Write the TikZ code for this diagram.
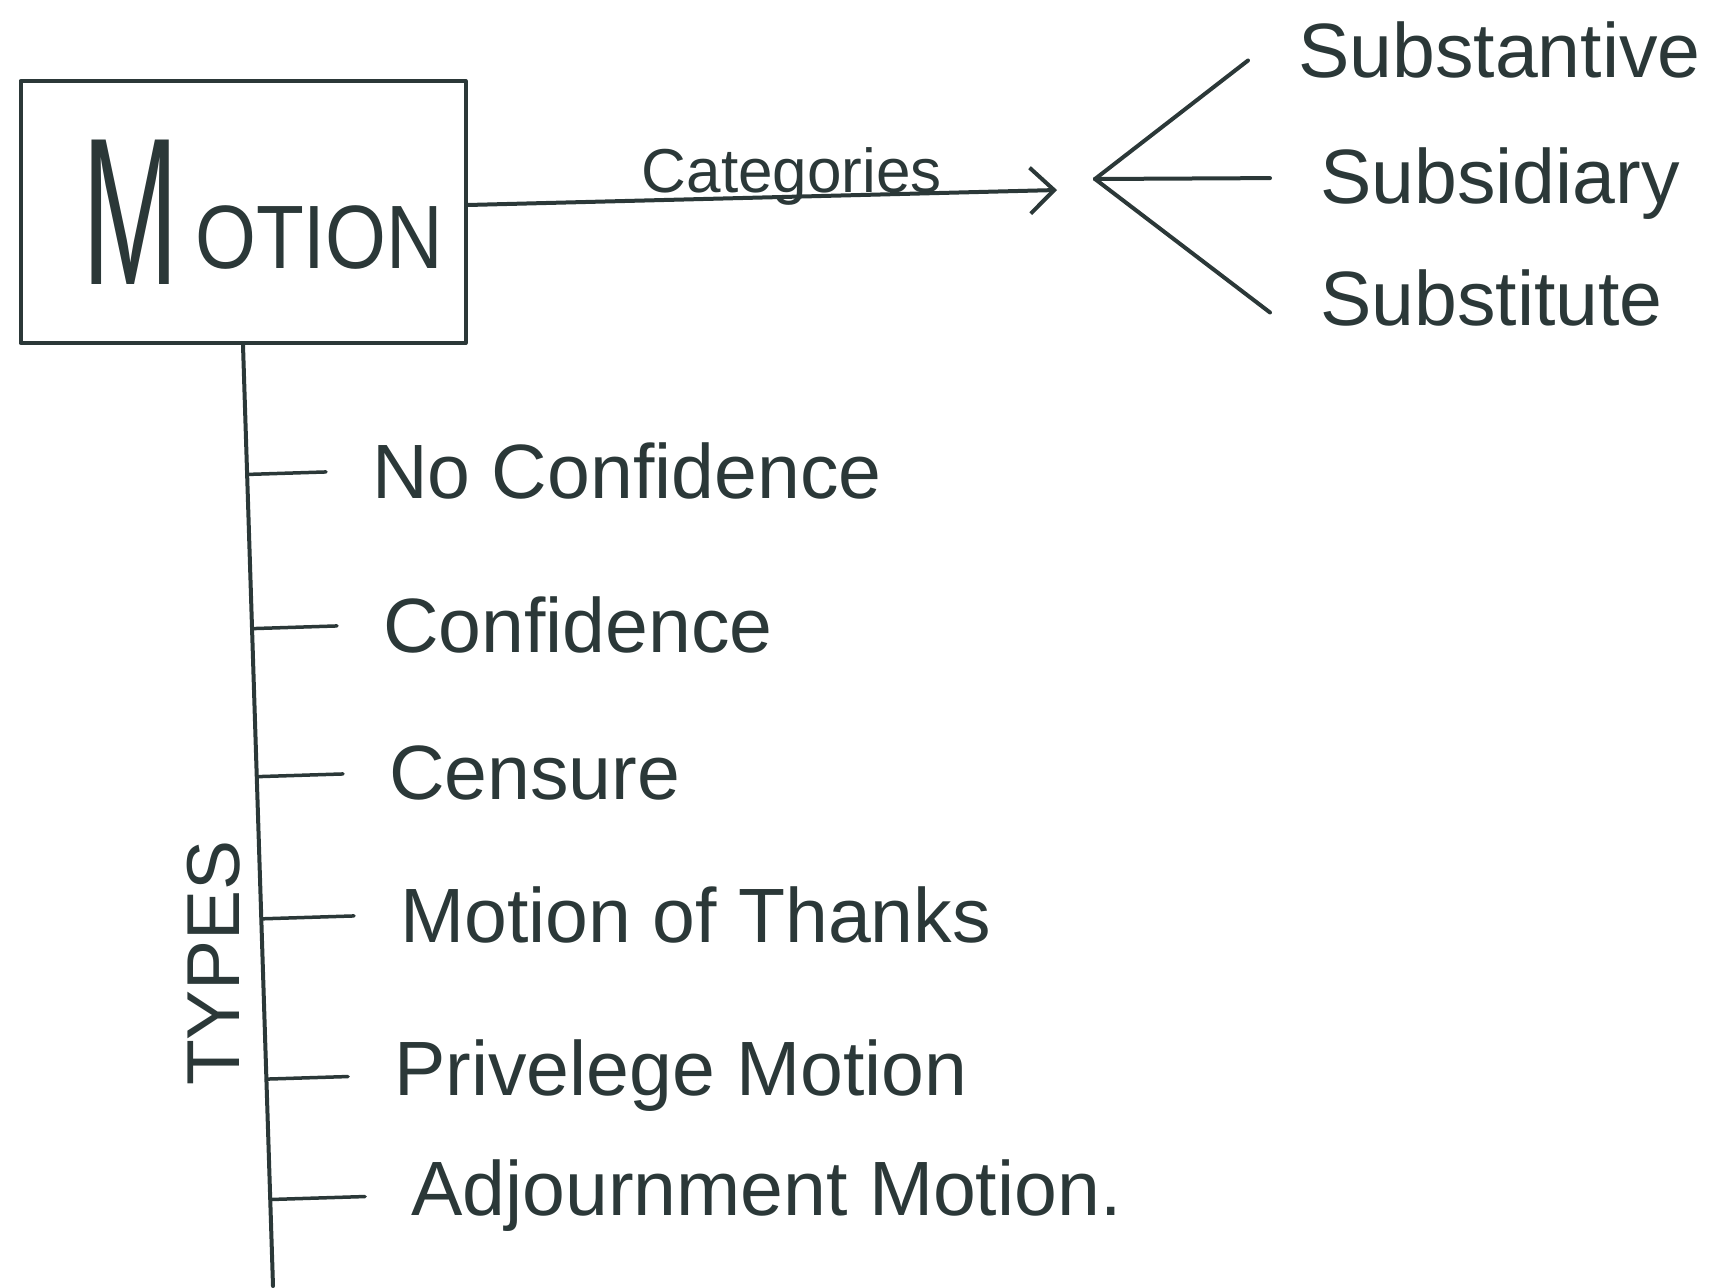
\documentclass[tikz,border=0pt]{standalone}
\usepackage{fontspec}
\setmainfont{Liberation Sans}
\usepackage{graphicx}
\usetikzlibrary{arrows.meta, calc}
\definecolor{inkGrey}{HTML}{2B3838}
\tikzset{
  sketch/pen/.style   = {draw=inkGrey, line width=4pt, line cap=round, line join=round},
  sketch/box/.style   = {sketch/pen, minimum width=445pt, minimum height=262pt,
                         inner sep=0pt, text=inkGrey},
  sketch/arrow/.style = {sketch/pen, -{Straight Barb[length=24pt, width=46pt, line width=4pt]}},
  sketch/tick/.style  = {sketch/pen, line width=3.5pt, shorten >=46pt},
  sketch/item/.style  = {text=inkGrey, inner sep=0pt, anchor=base west,
                         font=\fontsize{77}{90}\selectfont},
  sketch/cat/.style   = {sketch/item},
  sketch/label/.style = {text=inkGrey, inner sep=0pt, font=\fontsize{62}{72}\selectfont},
}

\begin{document}
\begin{tikzpicture}[x=1pt, y=-1pt]
  \useasboundingbox (0,0) rectangle (1717,1288);
  % --- Main box ---
  \node[sketch/box] (motion) at (243,212)
    {\hspace*{40pt}\scalebox{0.55}[1]{\fontsize{210}{210}\selectfont M}\hspace{16pt}%
     \raisebox{16pt}{\scalebox{0.87}[1]{\fontsize{90}{90}\selectfont OTION}}};
  % --- Categories arrow and fork ---
  \coordinate (catTip) at (1057,190);
  \coordinate (fork)   at (1095,179);
  \draw[sketch/arrow] ([yshift=7pt]motion.east) -- node[sketch/label, pos=0.55, anchor=base, yshift=4pt] (catLabel) {Categories} (catTip);
  \node[sketch/cat] (substantive) at (1298,77)  {Substantive};
  \node[sketch/cat] (subsidiary)  at (1320,203) {Subsidiary};
  \node[sketch/cat] (substitute)  at (1320,325) {Substitute};
  \draw[sketch/pen] (fork) -- ($(substantive.west)+(-50,11)$);
  \draw[sketch/pen] (fork) -- ($(subsidiary.west)+(-50,-5)$);
  \draw[sketch/pen] (fork) -- ($(substitute.west)+(-50,15)$);
  % --- Types line ---
  \coordinate (typesEnd) at (273,1286);
  \draw[sketch/pen] (motion.south) -- (typesEnd);
  \node[sketch/label, rotate=90, font=\fontsize{75}{80}\selectfont] (types) at (214,963) {TYPES};
  % --- Type items ---
  \node[sketch/item] (noConf)    at (372,498)  {No Confidence};
  \node[sketch/item] (conf)      at (383,652)  {Confidence};
  \node[sketch/item] (censure)   at (389,799)  {Censure};
  \node[sketch/item] (thanks)    at (400,942)  {Motion of Thanks};
  \node[sketch/item] (privilege) at (394,1095) {Privelege Motion};
  \node[sketch/item] (adjourn)   at (411,1215) {Adjournment Motion.};
  \foreach \t in {noConf, conf, censure, thanks, privilege, adjourn}
    \draw[sketch/tick] ($(motion.south)!(\t.west)!(typesEnd)$) -- (\t.west);
\end{tikzpicture}
\end{document}
